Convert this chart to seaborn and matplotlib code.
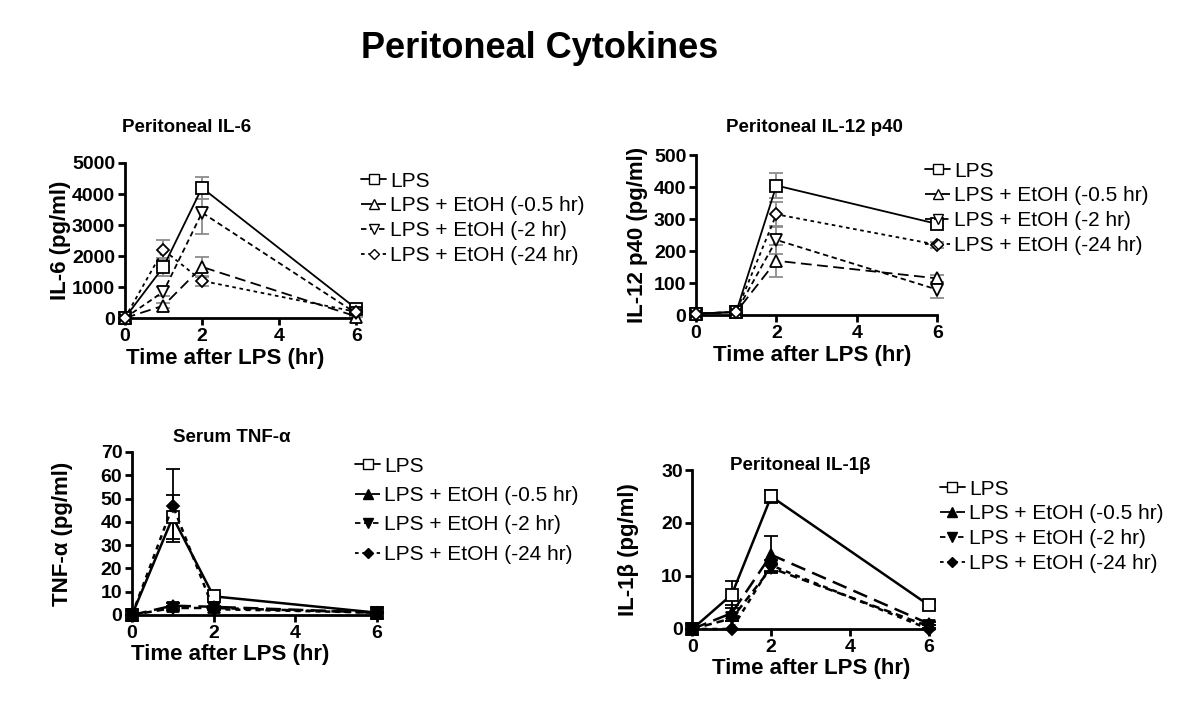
import matplotlib
matplotlib.use("Agg")
import matplotlib.pyplot as plt
import seaborn as sns
import pandas as pd
from matplotlib.lines import Line2D

# time points (hr after LPS)
times = [0, 1, 2, 6]
groups = ["LPS", "LPS + EtOH (-0.5 hr)", "LPS + EtOH (-2 hr)", "LPS + EtOH (-24 hr)"]

# Peritoneal IL-6 (pg/ml)
il6_lps = [0, 1650, 4200, 300]
il6_m05 = [0, 400, 1650, 50]
il6_m2 = [0, 850, 3400, 150]
il6_m24 = [0, 2200, 1200, 200]
il6_lps_err = [0, 300, 350, 100]
il6_m05_err = [0, 80, 330, 30]
il6_m2_err = [0, 150, 700, 50]
il6_m24_err = [0, 320, 150, 50]

# Peritoneal IL-12 p40 (pg/ml)
il12_lps = [5, 10, 405, 285]
il12_m05 = [5, 10, 170, 115]
il12_m2 = [5, 10, 235, 80]
il12_m24 = [5, 10, 315, 220]
il12_lps_err = [0, 5, 40, 10]
il12_m05_err = [0, 5, 50, 10]
il12_m2_err = [0, 5, 45, 25]
il12_m24_err = [0, 5, 40, 10]

# Serum TNF-alpha (pg/ml)
tnf_lps = [0, 42, 8, 1]
tnf_m05 = [0, 4, 3.5, 1]
tnf_m2 = [0, 3, 3, 1]
tnf_m24 = [0, 47, 2.5, 1]
tnf_lps_err = [0, 9.5, 1, 0.3]
tnf_m05_err = [0, 1, 0.5, 0.2]
tnf_m2_err = [0, 0.8, 0.5, 0.2]
tnf_m24_err = [0, 15.5, 0.5, 0.2]

# Peritoneal IL-1beta (pg/ml)
il1b_lps = [0, 6.5, 25, 4.5]
il1b_m05 = [0, 3, 14, 1]
il1b_m2 = [0, 2, 11.5, 0.5]
il1b_m24 = [0, 0, 12, 0]
il1b_lps_err = [0, 2.5, 1.3, 0.8]
il1b_m05_err = [0, 1.5, 3.5, 0.3]
il1b_m2_err = [0, 0.5, 0.8, 0.3]
il1b_m24_err = [0, 0, 1, 0]

sns.set_style("ticks")
plt.rcParams['font.family'] = ['Liberation Sans', 'DejaVu Sans']
for k in ['text.color', 'axes.labelcolor', 'xtick.color', 'ytick.color', 'axes.edgecolor']:
    plt.rcParams[k] = 'black'

markers = ["s", "^", "v", "D"]
dashes = ["-", (0, (6, 3)), (0, (3, 2)), (0, (2, 2))]
msizes = [8, 8, 8, 6]

W, H = 1200, 718
fig = plt.figure(figsize=(12, 7.18), dpi=100)
fig.text(0.45, 0.933, "Peritoneal Cytokines", ha="center", va="center",
         fontsize=26, fontweight="bold")


def panel(rect, series, errs, title, title_xy, ylabel, ymax, ystep, filled,
          legend_xy, err_color, lspace, xlab_x, ylab_pad):
    ax = fig.add_axes(rect)
    for i, (vals, err) in enumerate(zip(series, errs)):
        df = pd.DataFrame({"t": times, "v": vals})
        face = "black" if (filled and i > 0) else "white"
        ax.errorbar(times, vals, yerr=err, fmt="none", ecolor=err_color,
                    elinewidth=1.3, capsize=5, capthick=1.3, clip_on=False, zorder=2)
        sns.lineplot(data=df, x="t", y="v", ax=ax, color="black",
                     linestyle=dashes[i], linewidth=1.3 if not filled else 1.8,
                     marker=markers[i], markersize=msizes[i], markerfacecolor=face,
                     markeredgecolor="black", markeredgewidth=1.3,
                     clip_on=False, zorder=3, legend=False)
    ax.set_xlim(0, 6)
    ax.set_ylim(0, ymax)
    ax.set_xticks([0, 2, 4, 6])
    ax.set_yticks(range(0, ymax + 1, ystep))
    for s in ["top", "right"]:
        ax.spines[s].set_visible(False)
    for s in ["left", "bottom"]:
        ax.spines[s].set_linewidth(2)
    ax.tick_params(width=2, length=5, labelsize=14, pad=2)
    for lab in ax.get_xticklabels() + ax.get_yticklabels():
        lab.set_fontweight("bold")
    ax.set_xlabel("Time after LPS (hr)", fontsize=16, fontweight="bold", labelpad=2, x=xlab_x)
    ax.set_ylabel(ylabel, fontsize=16, fontweight="bold", labelpad=ylab_pad)
    fig.text(title_xy[0] / W, 1 - title_xy[1] / H, title, ha="center", va="center",
             fontsize=13.5, fontweight="bold")

    handles = []
    for i in range(4):
        face = "black" if (filled and i > 0) else "white"
        handles.append(Line2D([0], [0], color="black", linestyle=dashes[i],
                              linewidth=1.3, marker=markers[i], markersize=msizes[i] - 1,
                              markerfacecolor=face, markeredgecolor="black"))
    fig.legend(handles, groups, loc="upper left", bbox_to_anchor=legend_xy,
               frameon=False, fontsize=15, handlelength=1.2, handletextpad=0.2,
               labelspacing=lspace, borderpad=0, borderaxespad=0)
    return ax


panel([0.104, 0.557, 0.193, 0.216],
      [il6_lps, il6_m05, il6_m2, il6_m24],
      [il6_lps_err, il6_m05_err, il6_m2_err, il6_m24_err],
      "Peritoneal IL-6", (187, 128), "IL-6 (pg/ml)", 5000, 1000, False,
      (0.301, 0.761), "0.55", 0.28, 0.435, 1)

panel([0.58, 0.561, 0.201, 0.223],
      [il12_lps, il12_m05, il12_m2, il12_m24],
      [il12_lps_err, il12_m05_err, il12_m2_err, il12_m24_err],
      "Peritoneal IL-12 p40", (814, 128), "IL-12 p40 (pg/ml)", 500, 100, False,
      (0.771, 0.775), "0.55", 0.28, 0.48, 4)

panel([0.11, 0.1435, 0.204, 0.227],
      [tnf_lps, tnf_m05, tnf_m2, tnf_m24],
      [tnf_lps_err, tnf_m05_err, tnf_m2_err, tnf_m24_err],
      "Serum TNF-α", (232, 438), "TNF-α (pg/ml)", 70, 10, True,
      (0.296, 0.364), "black", 0.5, 0.40, 20)

panel([0.577, 0.124, 0.197, 0.2214],
      [il1b_lps, il1b_m05, il1b_m2, il1b_m24],
      [il1b_lps_err, il1b_m05_err, il1b_m2_err, il1b_m24_err],
      "Peritoneal IL-1β", (800, 465), "IL-1β (pg/ml)", 30, 10, True,
      (0.783, 0.332), "black", 0.28, 0.504, 16)

fig.savefig("out.png", dpi=100)
